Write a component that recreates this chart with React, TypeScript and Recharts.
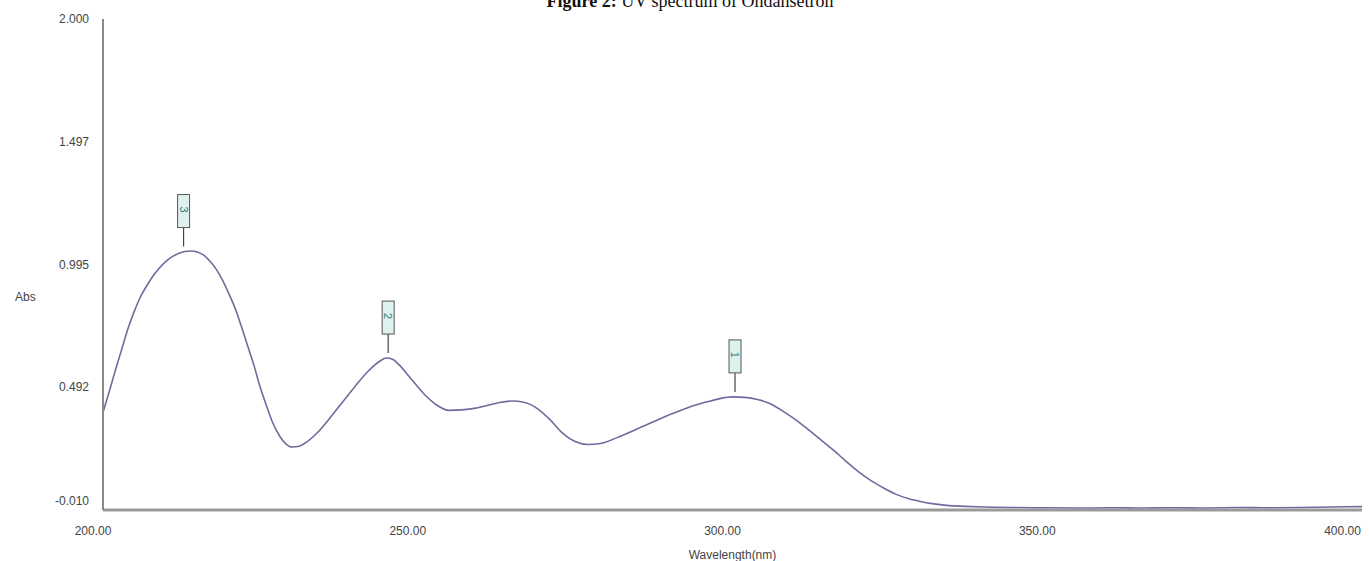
import React from "react";
import {
  ComposedChart,
  Line,
  XAxis,
  YAxis,
  ReferenceDot,
} from "recharts";

// wavelength (nm) and absorbance
const wavelengths = [
  200, 201, 202, 203, 204, 205, 206, 207, 208, 209, 210, 211, 212, 213, 214,
  215, 216, 217, 218, 219, 220, 221, 222, 223, 224, 225, 226, 227, 228, 229,
  230, 231, 232, 234, 236, 238, 240, 242, 244, 245, 246, 247, 249, 251, 253,
  255, 257, 259, 261, 263, 265, 267, 269, 271, 273, 275, 277, 279, 282, 286,
  290, 293, 296, 298, 300, 302, 304, 306, 308, 310, 312, 314, 316, 318, 320,
  322, 324, 326, 328, 330, 332, 334, 337, 340, 345, 350, 355, 360, 365, 370,
  375, 380, 385, 390, 395, 400,
];
const absorbance = [
  0.39, 0.475, 0.565, 0.65, 0.735, 0.805, 0.865, 0.91, 0.95, 0.982, 1.008,
  1.027, 1.04, 1.048, 1.05, 1.046, 1.033, 1.008, 0.975, 0.93, 0.875, 0.815,
  0.74, 0.66, 0.58, 0.49, 0.415, 0.345, 0.295, 0.262, 0.248, 0.25, 0.262,
  0.305, 0.365, 0.43, 0.495, 0.555, 0.6, 0.612, 0.607, 0.585, 0.525, 0.465,
  0.42, 0.398, 0.4, 0.406, 0.418, 0.43, 0.436, 0.43, 0.405, 0.36, 0.305, 0.27,
  0.258, 0.262, 0.29, 0.335, 0.38, 0.41, 0.433, 0.446, 0.453, 0.451, 0.442,
  0.425, 0.395, 0.36, 0.32, 0.278, 0.236, 0.19, 0.147, 0.11, 0.08, 0.054,
  0.036, 0.024, 0.015, 0.009, 0.005, 0.002, 0.0, -0.001, -0.002, -0.001,
  -0.002, -0.001, -0.002, 0.0, -0.001, 0.0, 0.002, 0.004,
];

const peakWl = [300.4, 245.3, 212.8];
const peakAbs = [0.453, 0.612, 1.048];
const peakNames = ["1", "2", "3"];

const yTicks = [-0.01, 0.492, 0.995, 1.497, 2.0];
const xTicks = [200, 250, 300, 350, 400];

const data = wavelengths.map((wl, i) => ({ wl, abs: absorbance[i] }));

const font = "'Liberation Sans', Arial, sans-serif";

const PeakMark = (name: string) => (props: any) => {
  const { cx, cy } = props;
  return (
    <g>
      <line x1={cx} y1={cy - 5} x2={cx} y2={cy - 24} stroke="#444" strokeWidth={1.2} />
      <rect
        x={cx - 6}
        y={cy - 57}
        width={12}
        height={33}
        fill="#dff1ee"
        stroke="#555"
        strokeWidth={1}
      />
      <text
        x={cx}
        y={cy - 42}
        fill="#2f7f78"
        fontSize={11}
        fontFamily={font}
        textAnchor="middle"
        dominantBaseline="central"
        transform={`rotate(90 ${cx} ${cy - 42})`}
      >
        {name}
      </text>
    </g>
  );
};

const YTick = (props: any) => {
  const { x, y, payload } = props;
  const v = payload.value as number;
  const shift = v < 0 ? -9 : 0;
  return (
    <text
      x={x - 6}
      y={y + shift}
      fill="#444"
      fontSize={12}
      fontFamily={font}
      textAnchor="end"
      dominantBaseline="central"
    >
      {v.toFixed(3)}
    </text>
  );
};

export default function App() {
  return (
    <div style={{ position: "absolute", left: 0, top: 0, width: 1369, height: 561, background: "#fff" }}>
      <div
        style={{
          position: "absolute",
          top: -9,
          left: 0,
          width: 1380,
          textAlign: "center",
          fontFamily: "'Liberation Serif', 'Times New Roman', serif",
          fontSize: 18,
          color: "#111",
        }}
      >
        <b>Figure 2:</b> UV spectrum of Ondansetron
      </div>
      <ComposedChart
        width={1369}
        height={561}
        data={data}
        margin={{ top: 19, right: 7, bottom: 0, left: 0 }}
      >
        <XAxis
          dataKey="wl"
          type="number"
          domain={[200, 400]}
          ticks={xTicks}
          tickFormatter={(v: number) => v.toFixed(2)}
          tickLine={false}
          axisLine={{ stroke: "#9a9a9a", strokeWidth: 3 }}
          tick={{ fill: "#444", fontSize: 12, fontFamily: font, dx: -10, dy: 8 }}
          height={51}
          label={{
            value: "Wavelength(nm)",
            position: "insideBottom",
            offset: 2,
            fill: "#444",
            fontSize: 12,
            fontFamily: font,
          }}
        />
        <XAxis
          xAxisId="top"
          orientation="top"
          dataKey="wl"
          type="number"
          domain={[200, 400]}
          tick={false}
          tickLine={false}
          axisLine={{ stroke: "#8a8a8a", strokeWidth: 1.5 }}
          height={0}
        />
        <YAxis
          type="number"
          domain={[-0.01, 2.0]}
          ticks={yTicks}
          tickLine={false}
          axisLine={{ stroke: "#8a8a8a", strokeWidth: 2 }}
          tick={<YTick />}
          width={103}
          label={{
            value: "Abs",
            position: "insideLeft",
            offset: 15,
            dy: 32,
            fill: "#444",
            fontSize: 12,
            fontFamily: font,
          }}
        />
        <YAxis
          yAxisId="right"
          orientation="right"
          domain={[-0.01, 2.0]}
          tick={false}
          tickLine={false}
          axisLine={{ stroke: "#555", strokeWidth: 1.5 }}
          width={0}
        />
        <Line
          type="monotone"
          dataKey="abs"
          stroke="#6c6c9e"
          strokeWidth={1.6}
          dot={false}
          isAnimationActive={false}
        />
        {peakWl.map((wl, i) => (
          <ReferenceDot
            key={i}
            x={wl}
            y={peakAbs[i]}
            r={0}
            shape={PeakMark(peakNames[i])}
          />
        ))}
      </ComposedChart>
    </div>
  );
}
